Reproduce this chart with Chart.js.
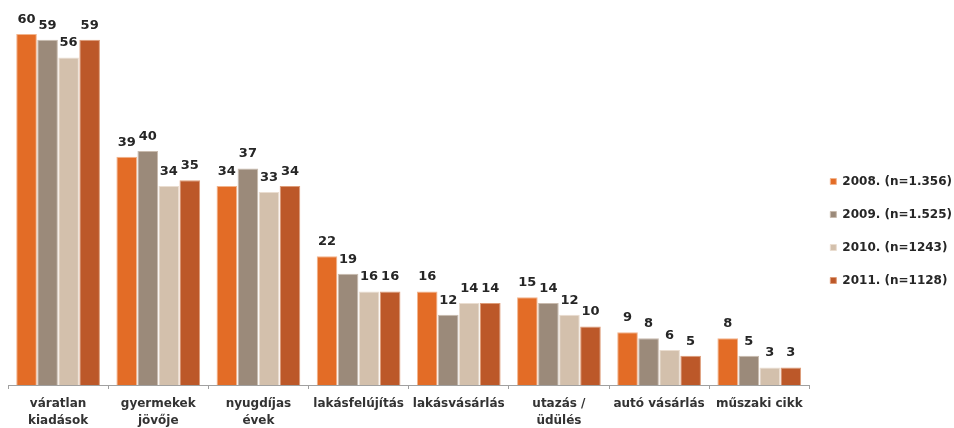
<!DOCTYPE html>
<html>
<head>
<meta charset="utf-8">
<script src="https://cdn.jsdelivr.net/npm/chart.js@4.4.0/dist/chart.umd.min.js"></script>
<style>
  html, body { margin: 0; padding: 0; background: #fff; }
  #wrap { width: 954px; height: 428px; }
</style>
</head>
<body>
<div id="wrap"><canvas id="chart"></canvas></div>
<script>
// categories and series
const categories = [
  ["váratlan", "kiadások"],
  ["gyermekek", "jövője"],
  ["nyugdíjas", "évek"],
  "lakásfelújítás",
  "lakásvásárlás",
  ["utazás /", "üdülés"],
  "autó vásárlás",
  "műszaki cikk"
];
const seriesNames = ["2008. (n=1.356)", "2009. (n=1.525)", "2010. (n=1243)", "2011. (n=1128)"];
const values2008 = [60, 39, 34, 22, 16, 15, 9, 8];
const values2009 = [59, 40, 37, 19, 12, 14, 8, 5];
const values2010 = [56, 34, 33, 16, 14, 12, 6, 3];
const values2011 = [59, 35, 34, 16, 14, 10, 5, 3];

const fills = ["#E36C26", "#9B8A7A", "#D3C0AC", "#BC5829"];
const edges = ["#F2B48C", "#C9BBAE", "#EADDD0", "#DE9C78"];

// draw the number over each bar
const valueLabels = {
  id: "valueLabels",
  afterDatasetsDraw(chart) {
    const ctx = chart.ctx;
    ctx.save();
    ctx.font = "bold 13px 'DejaVu Sans'";
    ctx.fillStyle = "#262626";
    ctx.textAlign = "center";
    ctx.textBaseline = "bottom";
    chart.data.datasets.forEach((ds, i) => {
      const meta = chart.getDatasetMeta(i);
      meta.data.forEach((bar, j) => {
        ctx.fillText(ds.data[j], bar.x, bar.y - 8);
      });
    });
    ctx.restore();
  }
};

// make the legend box a bit narrower so the plot reaches further right
const narrowLegend = {
  id: "narrowLegend",
  beforeUpdate(chart) {
    const lg = chart.legend;
    if (lg && !lg._narrowed) {
      const fit = lg.fit;
      lg.fit = function () { fit.call(this); this.width -= 8; };
      lg._narrowed = true;
    }
  }
};

const allSeries = [values2008, values2009, values2010, values2011];

new Chart(document.getElementById("chart"), {
  type: "bar",
  data: {
    labels: categories,
    datasets: allSeries.map((vals, i) => ({
      label: seriesNames[i],
      data: vals,
      backgroundColor: fills[i],
      borderColor: edges[i],
      borderWidth: 1,
      categoryPercentage: 0.84,
      barPercentage: 0.98
    }))
  },
  options: {
    responsive: true,
    maintainAspectRatio: false,
    animation: false,
    layout: { padding: { top: 34, bottom: 0, left: 8, right: 0 } },
    plugins: {
      tooltip: { enabled: false },
      legend: {
        position: "right",
        labels: {
          boxWidth: 6,
          boxHeight: 6,
          padding: 21,
          color: "#262626",
          font: { family: "'DejaVu Sans'", size: 12, weight: "bold" }
        }
      }
    },
    scales: {
      x: {
        grid: { drawOnChartArea: false, drawTicks: true, tickLength: 4, color: "#A0A0A0" },
        border: { color: "#A0A0A0" },
        ticks: {
          autoSkip: false,
          maxRotation: 0,
          padding: 6,
          color: "#333",
          font: { family: "'DejaVu Sans'", size: 12, weight: "bold", lineHeight: 1.45 }
        },
        afterFit(scale) { scale.height = 43; }
      },
      y: {
        display: false,
        min: 0,
        max: 60
      }
    }
  },
  plugins: [valueLabels, narrowLegend]
});
</script>
</body>
</html>
